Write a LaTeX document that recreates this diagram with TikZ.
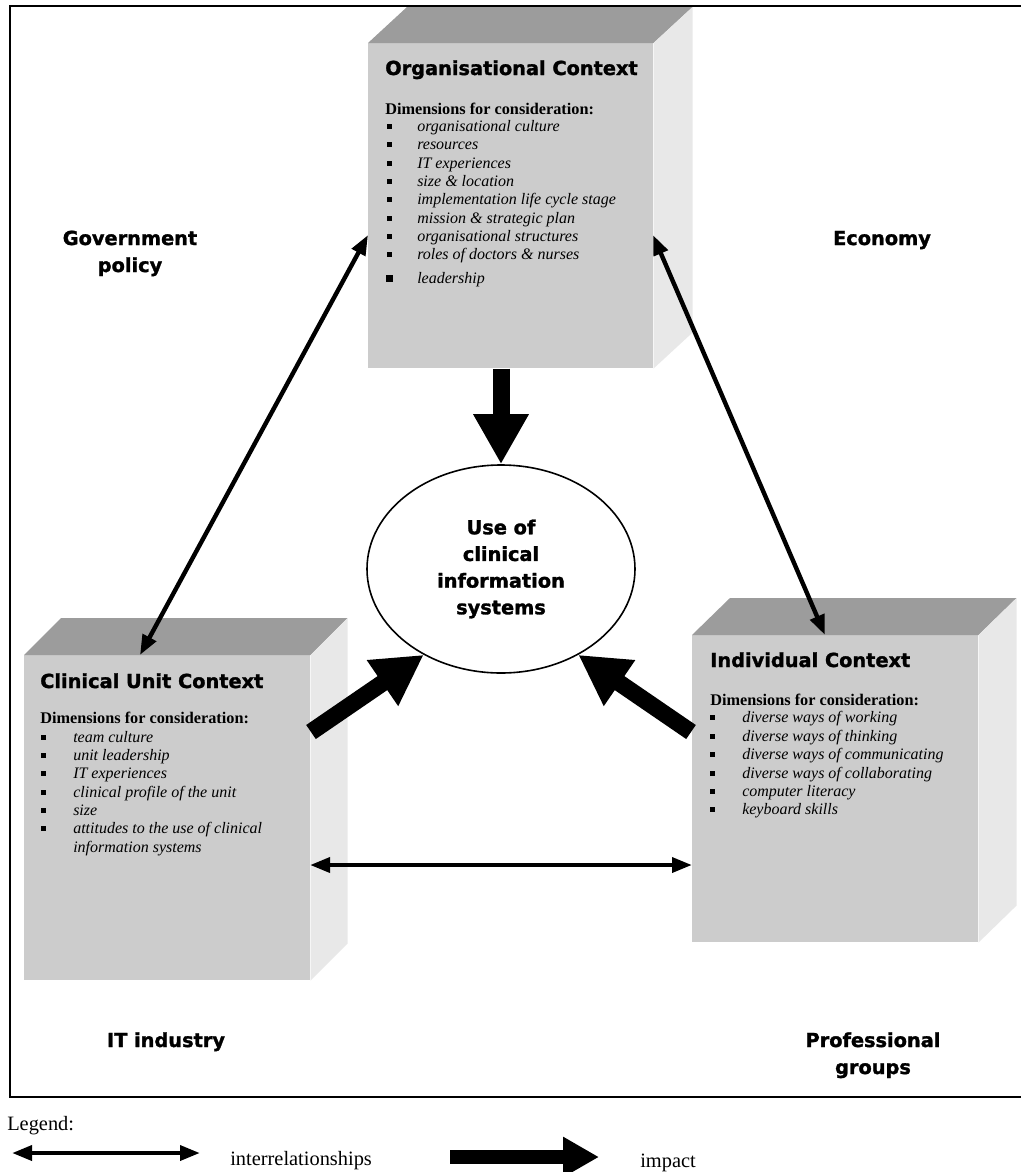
\documentclass[tikz,border=0pt]{standalone}
\usepackage{fontspec}
\setmainfont{Liberation Serif}
\newfontfamily\vfont{DejaVu Sans}[BoldFeatures={FakeBold=1.5}]
\usetikzlibrary{arrows.meta,shapes.geometric}
\definecolor{frontc}{HTML}{CCCCCC}
\definecolor{topc}{HTML}{9C9C9C}
\definecolor{sidec}{HTML}{E8E8E8}
\tikzset{
  front/.style={fill=frontc, draw=none, inner sep=0pt, anchor=north west},
  ttl/.style={font=\vfont\bfseries\fontsize{14.5}{20}\selectfont, anchor=base west, inner sep=0pt},
  lbl/.style={font=\vfont\bfseries\fontsize{14.5}{20}\selectfont, anchor=base, inner sep=0pt},
  dim/.style={font=\bfseries\fontsize{12.2}{14}\selectfont, anchor=base west, inner sep=0pt},
  itm/.style={font=\itshape\fontsize{12}{14}\selectfont, anchor=base west, inner sep=0pt},
  leg/.style={font=\fontsize{15.3}{18}\selectfont, anchor=base west, inner sep=0pt},
  rel/.style={line width=3.3pt, {Triangle[length=15pt,width=11pt]}-{Triangle[length=15pt,width=11pt]}},
  bigarrow/.style={line width=12.75pt, -{Triangle[length=37.5pt,width=39pt]}},
}
\newcommand\bul[6]{%
  \fill (#2-#5/2,#4-5-#5/2) rectangle ++(#5,#5);
  \node[itm] (#1) at (#3,#4) {#6};}
\newcommand\cube[3]{% name, dx, dy
  \fill[topc] (#1.north west) -- ++(#2,#3) -- ([shift={(#2,#3)}]#1.north east) -- (#1.north east) -- cycle;
  \fill[sidec] (#1.north east) -- ++(#2,#3) -- ([shift={(#2,#3)}]#1.south east) -- (#1.south east) -- cycle;}
\begin{document}
\begin{tikzpicture}[x=0.75pt,y=-0.75pt]
\useasboundingbox (0,0) rectangle (1021,1172);
\fill[white] (0,0) rectangle (1021,1172);
% frame
\draw[line width=1.5pt] (10,6) rectangle (1026,1097);

% boxes
\node[front, minimum width=213.75pt, minimum height=243.75pt] (org) at (368,43) {};
\cube{org}{39}{-36}
\node[front, minimum width=214.5pt, minimum height=243.75pt] (clin) at (24,655) {};
\cube{clin}{37}{-37}
\node[front, minimum width=214.5pt, minimum height=230.25pt] (ind) at (692,635) {};
\cube{ind}{38}{-37}

% Organisational text
\node[ttl] (orgT) at (385,75) {Organisational Context};
\node[dim] (orgD) at (385,114) {Dimensions for consideration:};
\bul{o1}{389}{417}{131}{5}{organisational culture}
\bul{o2}{389}{417}{149.5}{5}{resources}
\bul{o3}{389}{417}{168}{5}{IT experiences}
\bul{o4}{389}{417}{186}{5}{size \& location}
\bul{o5}{389}{417}{204.5}{5}{implementation life cycle stage}
\bul{o6}{389}{417}{223}{5}{mission \& strategic plan}
\bul{o7}{389}{417}{241}{5}{organisational structures}
\bul{o8}{389}{417}{259.5}{5}{roles of doctors \& nurses}
\bul{o9}{389}{417}{283}{7}{leadership}

% Clinical text
\node[ttl] (clinT) at (40,688) {Clinical Unit Context};
\node[dim] (clinD) at (40,723) {Dimensions for consideration:};
\bul{c1}{43}{73}{742}{5}{team culture}
\bul{c2}{43}{73}{760}{5}{unit leadership}
\bul{c3}{43}{73}{778.5}{5}{IT experiences}
\bul{c4}{43}{73}{797}{5}{clinical profile of the unit}
\bul{c5}{43}{73}{815}{5}{size}
\bul{c6}{43}{73}{833.5}{5}{attitudes to the use of clinical}
\node[itm] (c7) at (73,852) {information systems};

% Individual text
\node[ttl] (indT) at (710,667) {Individual Context};
\node[dim] (indD) at (710,705) {Dimensions for consideration:};
\bul{i1}{712}{742}{722}{5}{diverse ways of working}
\bul{i2}{712}{742}{741}{5}{diverse ways of thinking}
\bul{i3}{712}{742}{759}{5}{diverse ways of communicating}
\bul{i4}{712}{742}{778}{5}{diverse ways of collaborating}
\bul{i5}{712}{742}{796}{5}{computer literacy}
\bul{i6}{712}{742}{814}{5}{keyboard skills}

% ellipse
\node[ellipse, draw, line width=1.2pt, fill=white, minimum width=201pt, minimum height=156pt, inner sep=0pt,
      align=center, font=\vfont\bfseries\fontsize{14.5}{20}\selectfont] (use) at (501,569)
      {Use of\\clinical\\information\\systems};

% outer labels
\node[lbl] (gov1) at (130,245) {Government};
\node[lbl] (gov2) at (130,272) {policy};
\node[lbl] (eco) at (882,245) {Economy};
\node[lbl] (itind) at (166,1047) {IT industry};
\node[lbl] (prof1) at (873,1047) {Professional};
\node[lbl] (prof2) at (873,1074) {groups};

% connector end points
\coordinate (orgL) at (368,235);
\coordinate (orgR) at (653,235);
\coordinate (clinTop) at (140,655);
\coordinate (indTop) at (825,635);
\coordinate (clinR) at (310,865);
\coordinate (indL) at (692,865);
\coordinate (clinOut) at (311,732);
\coordinate (indOut) at (691,732);

% interrelationships
\draw[rel] (orgL) -- (clinTop);
\draw[rel] (orgR) -- (indTop);
\draw[rel] (clinR) -- (indL);

% impacts
\draw[bigarrow] (use.north |- org.south) -- (use.north);
\draw[bigarrow] (clinOut) -- (use.228);
\draw[bigarrow] (indOut) -- (use.312);

% legend
\node[leg] (legT) at (7,1130) {Legend:};
\coordinate (l1a) at (12,1153);
\coordinate (l1b) at (200,1153);
\draw[rel] (l1a) -- (l1b);
\node[leg] (legR) at (230,1165) {interrelationships};
\coordinate (l2a) at (450,1157);
\coordinate (l2b) at (599,1157);
\draw[line width=10.5pt, -{Triangle[length=27pt,width=28.5pt]}] (l2a) -- (l2b);
\node[leg] (legI) at (640,1167) {impact};
\end{tikzpicture}
\end{document}
